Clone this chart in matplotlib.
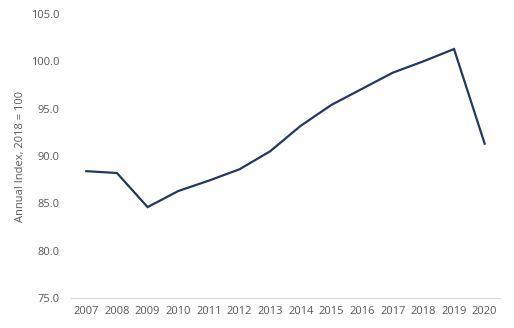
import matplotlib
matplotlib.use("Agg")
import matplotlib.pyplot as plt

years = ['2007', '2008', '2009', '2010', '2011', '2012', '2013',
         '2014', '2015', '2016', '2017', '2018', '2019', '2020']
index_vals = [88.4, 88.2, 84.6, 86.3, 87.4, 88.6, 90.5,
              93.2, 95.4, 97.1, 98.8, 100.0, 101.3, 91.3]

plt.rcParams['font.family'] = ['Open Sans', 'DejaVu Sans']
grey = '#595959'

fig = plt.figure(figsize=(5.14, 3.28), dpi=100)
ax = fig.add_axes([71 / 514, 30 / 328, 429 / 514, 284 / 328])

x = list(range(len(years)))
ax.plot(x, index_vals, color='#203864', linewidth=1.6, solid_joinstyle='miter')

ax.set_xlim(-0.5, len(years) - 0.5)
ax.set_ylim(75, 105)
ax.set_xticks(x)
ax.set_xticklabels(years)
ax.set_yticks([75, 80, 85, 90, 95, 100, 105])
ax.set_yticklabels([f'{v:.1f}' for v in [75, 80, 85, 90, 95, 100, 105]])
ax.tick_params(axis='both', length=0, labelsize=8, colors=grey)
ax.tick_params(axis='y', pad=8)
ax.tick_params(axis='x', pad=6)

for s in ['top', 'right', 'left']:
    ax.spines[s].set_visible(False)
ax.spines['bottom'].set_color('#d9d9d9')
ax.spines['bottom'].set_linewidth(0.8)

ax.set_ylabel('Annual Index, 2018 = 100', fontsize=8, color=grey, labelpad=4)

fig.savefig('out.png', dpi=100)
